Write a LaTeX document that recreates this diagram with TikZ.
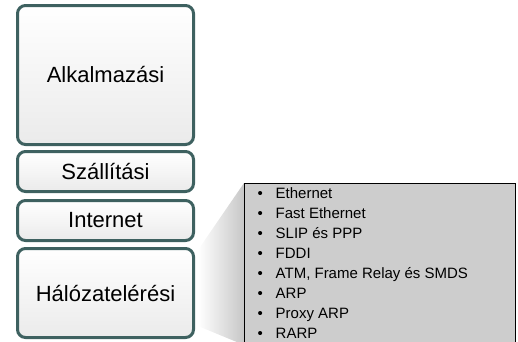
\documentclass[tikz,border=0pt]{standalone}
\usepackage{fontspec}
\setmainfont{Liberation Sans}
\definecolor{layerborder}{HTML}{3E6160}
\definecolor{listfill}{HTML}{CDCDCD}
\tikzset{
  layer/.style={draw=layerborder, line width=3pt, rounded corners=8pt,
    top color=white, bottom color=black!8, minimum width=176pt,
    font=\fontsize{22}{26}\selectfont, inner sep=0pt},
  item/.style={anchor=base west, font=\fontsize{15}{18}\selectfont, inner sep=0pt},
}
\begin{document}
\begin{tikzpicture}[x=1pt,y=-1pt]
\useasboundingbox (0,0) rectangle (518,341);
% wedge
\shade[left color=white, right color=black!22] (198,250) -- (244,183) -- (244,345) -- (198,326) -- cycle;
% layers
\node[layer, minimum height=139pt] (app) at (105.5,75) {Alkalmazási};
\node[layer, minimum height=40pt] (trans) at (105.5,171.5) {Szállítási};
\node[layer, minimum height=40pt] (inet) at (105.5,220.5) {Internet};
\node[layer, minimum height=89pt] (net) at (105.5,293) {\raisebox{-4pt}{Hálózatelérési}};
% list box
\node[draw=black, line width=0.8pt, fill=listfill, anchor=north west, minimum width=271pt, minimum height=170pt, inner sep=0pt] (list) at (244.4,183.4) {};
\foreach \t [count=\i] in {Ethernet, Fast Ethernet, SLIP és PPP, FDDI, {ATM, Frame Relay és SMDS}, ARP, Proxy ARP, RARP}{
  \node[item] (b\i) at (257.5,{178.4+20*\i}) {•};
  \node[item] (i\i) at (275.5,{178.4+20*\i}) {\t};
}
\end{tikzpicture}
\end{document}
